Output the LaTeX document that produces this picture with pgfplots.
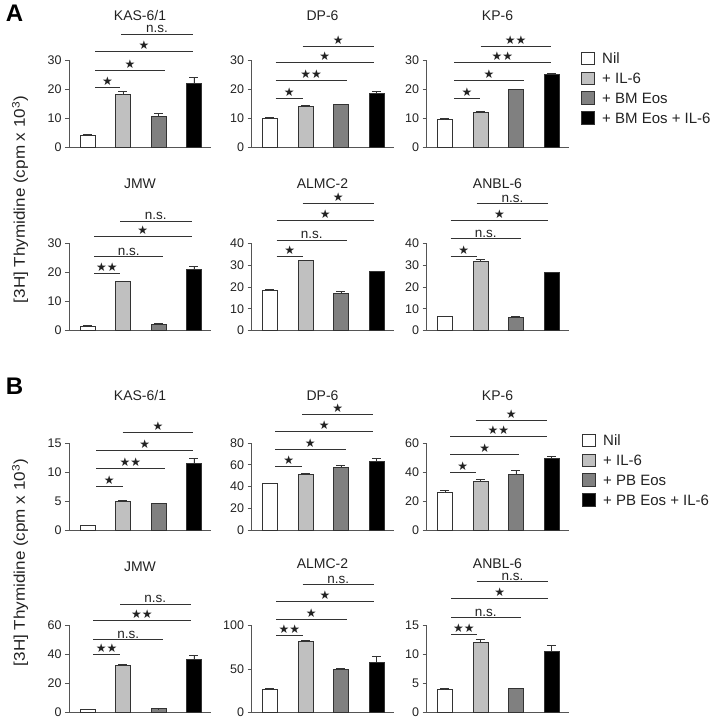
\documentclass[border=0pt]{standalone}
\usepackage{fontspec}
\setmainfont{Liberation Sans}
\newfontfamily\sym{DejaVu Sans}
\usepackage{graphicx}
\usepackage{pgfplots}
\pgfplotsset{compat=1.18}

\definecolor{axc}{HTML}{555555}
\definecolor{txc}{HTML}{222222}
\definecolor{bline}{HTML}{333333}
\definecolor{cnil}{HTML}{FFFFFF}
\definecolor{cil}{HTML}{C0C0C0}
\definecolor{ceos}{HTML}{808080}
\definecolor{cboth}{HTML}{000000}

\pgfplotsset{
 panel/.style={
  scale only axis, width=142pt, height=87pt, anchor=south west,
  xmin=-0.52, xmax=3.48, ymin=0,
  axis x line=bottom, axis y line=left,
  axis line style={draw=axc, line width=0.9pt, -},
  xtick=\empty,
  tick align=outside, major tick length=4pt,
  tick style={draw=axc, line width=0.8pt},
  yticklabel style={font=\fontsize{12.5}{14}\selectfont, text=txc},
  /pgf/number format/assume math mode=true,
  clip=false,
  ybar, bar width=15pt, bar shift=0pt,
 },
 b/.style={draw=bline, line width=0.8pt, fill=#1, bar shift=0pt,
  error bars/.cd, y dir=plus, y explicit,
  error bar style={draw=bline, line width=0.8pt},
  error mark options={rotate=90, draw=bline, line width=0.8pt, mark size=4.5pt}},
 leg/.style={
  legend style={draw=none, fill=none, at={(axis description cs:#1)}, anchor=north west,
   inner sep=0pt, outer sep=0pt, font=\fontsize{15}{18}\selectfont, text=txc,
   row sep=6.4pt, cells={anchor=west},
   nodes={inner sep=0pt, text height=10.7pt, text depth=0pt},
   /tikz/every odd column/.append style={column sep=7.7pt}},
  legend image code/.code={\draw[##1, line width=0.8pt] (0pt,-6.35pt) rectangle (12.7pt,6.35pt);},
 },
}

\tikzset{sigl/.style={draw=bline, line width=0.8pt}}
\newcommand{\sigS}[4]{\draw[sigl] (#1,{722-#3}) -- (#2,{722-#3}) node[midway,anchor=base,yshift=1.8pt,inner sep=0pt,text=txc,font={\sym\fontsize{12}{13}\selectfont}]{#4};}
\newcommand{\sigN}[3]{\draw[sigl] (#1,{722-#3}) -- (#2,{722-#3}) node[midway,anchor=base,yshift=1.2pt,inner sep=0pt,text=txc,font={\fontsize{13.5}{14}\selectfont}]{n.s.};}
\newcommand{\ttl}[3]{\node[anchor=base,inner sep=0pt,text=txc,font={\fontsize{14}{16}\selectfont}] at (#1,{722-#2}) {#3};}

\begin{document}
\begin{tikzpicture}[x=1pt,y=1pt]
\useasboundingbox (0,0) rectangle (718,722);

% ================= Panel A =================
% KAS-6/1
\begin{axis}[panel, at={(69pt,575pt)}, ymax=30, ytick={0,10,20,30}]
\addplot[b=cnil] coordinates {(0,4) +- (0,0.3)};
\addplot[b=cil] coordinates {(1,18) +- (0,1.2)};
\addplot[b=ceos] coordinates {(2,10.5) +- (0,1.2)};
\addplot[b=cboth] coordinates {(3,22) +- (0,2)};
\end{axis}
% DP-6
\begin{axis}[panel, at={(251.5pt,575pt)}, ymax=30, ytick={0,10,20,30}]
\addplot[b=cnil] coordinates {(0,10) +- (0,0.3)};
\addplot[b=cil] coordinates {(1,14) +- (0,0.2)};
\addplot[b=ceos] coordinates {(2,14.7) +- (0,0.1)};
\addplot[b=cboth] coordinates {(3,18.5) +- (0,0.8)};
\end{axis}
% KP-6
\begin{axis}[panel, at={(426.5pt,575pt)}, ymax=30, ytick={0,10,20,30}, leg={1.088,1.096}]
\addplot[b=cnil] coordinates {(0,9.5) +- (0,0.3)};
\addplot[b=cil] coordinates {(1,12) +- (0,0.3)};
\addplot[b=ceos] coordinates {(2,19.7) +- (0,0.3)};
\addplot[b=cboth] coordinates {(3,25) +- (0,0.3)};
\legend{Nil,+ IL-6,+ BM Eos,+ BM Eos + IL-6}
\end{axis}
% JMW
\begin{axis}[panel, at={(69pt,391.5pt)}, ymax=30, ytick={0,10,20,30}]
\addplot[b=cnil] coordinates {(0,1.5) +- (0,0.1)};
\addplot[b=cil] coordinates {(1,17) +- (0,0.1)};
\addplot[b=ceos] coordinates {(2,2.2) +- (0,0.1)};
\addplot[b=cboth] coordinates {(3,21) +- (0,1.2)};
\end{axis}
% ALMC-2
\begin{axis}[panel, at={(251.5pt,391.5pt)}, ymax=40, ytick={0,10,20,30,40}]
\addplot[b=cnil] coordinates {(0,18.5) +- (0,0.4)};
\addplot[b=cil] coordinates {(1,32) +- (0,0.2)};
\addplot[b=ceos] coordinates {(2,17) +- (0,1)};
\addplot[b=cboth] coordinates {(3,27) +- (0,0.2)};
\end{axis}
% ANBL-6
\begin{axis}[panel, at={(426.5pt,391.5pt)}, ymax=40, ytick={0,10,20,30,40}]
\addplot[b=cnil] coordinates {(0,6.5) +- (0,0.2)};
\addplot[b=cil] coordinates {(1,31.8) +- (0,1)};
\addplot[b=ceos] coordinates {(2,6.1) +- (0,0.2)};
\addplot[b=cboth] coordinates {(3,26.6) +- (0,0.2)};
\end{axis}

% ================= Panel B =================
% KAS-6/1
\begin{axis}[panel, at={(69pt,192pt)}, ymax=15, ytick={0,5,10,15}]
\addplot[b=cnil] coordinates {(0,0.8) +- (0,0.05)};
\addplot[b=cil] coordinates {(1,5) +- (0,0.05)};
\addplot[b=ceos] coordinates {(2,4.5) +- (0,0.15)};
\addplot[b=cboth] coordinates {(3,11.5) +- (0,0.9)};
\end{axis}
% DP-6
\begin{axis}[panel, at={(251.5pt,192pt)}, ymax=80, ytick={0,20,40,60,80}]
\addplot[b=cnil] coordinates {(0,42.5) +- (0,0.3)};
\addplot[b=cil] coordinates {(1,51.5) +- (0,1)};
\addplot[b=ceos] coordinates {(2,57.5) +- (0,2)};
\addplot[b=cboth] coordinates {(3,63.5) +- (0,2)};
\end{axis}
% KP-6
\begin{axis}[panel, at={(426.5pt,192pt)}, ymax=60, ytick={0,20,40,60}, leg={1.095,1.1075}]
\addplot[b=cnil] coordinates {(0,25.6) +- (0,1.5)};
\addplot[b=cil] coordinates {(1,33.7) +- (0,1.5)};
\addplot[b=ceos] coordinates {(2,38.3) +- (0,2.5)};
\addplot[b=cboth] coordinates {(3,49.3) +- (0,1.6)};
\legend{Nil,+ IL-6,+ PB Eos,+ PB Eos + IL-6}
\end{axis}
% JMW
\begin{axis}[panel, at={(69pt,9.5pt)}, ymax=60, ytick={0,20,40,60}]
\addplot[b=cnil] coordinates {(0,2) +- (0,0.2)};
\addplot[b=cil] coordinates {(1,32.7) +- (0,0.8)};
\addplot[b=ceos] coordinates {(2,2.5) +- (0,0.2)};
\addplot[b=cboth] coordinates {(3,36.5) +- (0,3.2)};
\end{axis}
% ALMC-2
\begin{axis}[panel, at={(251.5pt,9.5pt)}, ymax=100, ytick={0,50,100}]
\addplot[b=cnil] coordinates {(0,27) +- (0,0.3)};
\addplot[b=cil] coordinates {(1,82) +- (0,1)};
\addplot[b=ceos] coordinates {(2,49.5) +- (0,1)};
\addplot[b=cboth] coordinates {(3,58) +- (0,7)};
\end{axis}
% ANBL-6
\begin{axis}[panel, at={(426.5pt,9.5pt)}, ymax=15, ytick={0,5,10,15}]
\addplot[b=cnil] coordinates {(0,4) +- (0,0.1)};
\addplot[b=cil] coordinates {(1,12) +- (0,0.6)};
\addplot[b=ceos] coordinates {(2,4.1) +- (0,0.1)};
\addplot[b=cboth] coordinates {(3,10.5) +- (0,1)};
\end{axis}

% ---- significance brackets: A ----
\sigS{95}{120}{87}{★}
\sigS{95}{165}{70}{★}
\sigS{95}{193}{51}{★}
\sigN{121}{193}{34}
\sigS{275.7}{302.7}{98}{★}
\sigS{275.7}{346.7}{80}{★★}
\sigS{275.7}{374}{62}{★}
\sigS{302.7}{374}{46}{★}
\sigS{454}{480}{98}{★}
\sigS{454}{524}{80}{★}
\sigS{454}{550.7}{62}{★★}
\sigS{480.7}{550.7}{46}{★★}
\sigS{94}{120}{273.3}{★★}
\sigN{94}{163.3}{256.7}
\sigS{94}{191.7}{236.7}{★}
\sigN{120}{191.7}{221}
\sigS{276.7}{302.7}{256}{★}
\sigN{276.7}{346.7}{240}
\sigS{276.7}{374}{220}{★}
\sigS{302.7}{374}{203.3}{★}
\sigS{450.7}{476.7}{256}{★}
\sigN{450.7}{520.7}{238.3}
\sigS{450.7}{548.3}{220}{★}
\sigN{476.7}{548.3}{203.3}
% ---- significance brackets: B ----
\sigS{96}{122.7}{486}{★}
\sigS{96}{165}{468.3}{★★}
\sigS{96}{193.3}{450}{★}
\sigS{122.7}{193.3}{432.7}{★}
\sigS{275}{302.3}{466.7}{★}
\sigS{275}{345.7}{449.3}{★}
\sigS{275}{373.3}{431}{★}
\sigS{302.3}{373.3}{414}{★}
\sigS{450}{475.7}{472.3}{★}
\sigS{450}{519.3}{454.7}{★}
\sigS{450}{546.7}{436}{★★}
\sigS{475.7}{546.7}{420}{★}
\sigS{93.3}{120}{654}{★★}
\sigN{93.3}{163.3}{639.7}
\sigS{93.3}{190.7}{620.3}{★★}
\sigN{120}{190.7}{604}
\sigS{276}{302.7}{635.7}{★★}
\sigS{276}{346.7}{619}{★}
\sigS{276}{374}{601}{★}
\sigN{302.7}{374}{584.3}
\sigS{451}{476.7}{634.3}{★★}
\sigN{451}{520.7}{617.7}
\sigS{451}{548.3}{598.3}{★}
\sigN{476.7}{548.3}{581.7}

% ---- titles ----
\ttl{140}{20.5}{KAS-6/1}
\ttl{322.5}{20.5}{DP-6}
\ttl{497.5}{20.5}{KP-6}
\ttl{140}{189}{JMW}
\ttl{322.5}{189}{ALMC-2}
\ttl{497.5}{189}{ANBL-6}
\ttl{140}{400.5}{KAS-6/1}
\ttl{322.5}{400.5}{DP-6}
\ttl{497.5}{400.5}{KP-6}
\ttl{140}{571.5}{JMW}
\ttl{322.5}{568.3}{ALMC-2}
\ttl{497.5}{568.3}{ANBL-6}

% ---- panel letters and y labels ----
\node[font={\fontsize{24}{26}\selectfont\bfseries}, text=black, inner sep=0pt] at (14.5,708.5) {A};
\node[font={\fontsize{24}{26}\selectfont\bfseries}, text=black, inner sep=0pt] at (14.5,335.5) {B};
\node[rotate=90, inner sep=0pt, text=txc, font={\fontsize{15.5}{17}\selectfont}] at (20,522.5) {\scalebox{1.1}[1]{[3H] Thymidine (cpm x 10\textsuperscript{3})}};
\node[rotate=90, inner sep=0pt, text=txc, font={\fontsize{15.5}{17}\selectfont}] at (20,159.5) {\scalebox{1.1}[1]{[3H] Thymidine (cpm x 10\textsuperscript{3})}};
\end{tikzpicture}
\end{document}
